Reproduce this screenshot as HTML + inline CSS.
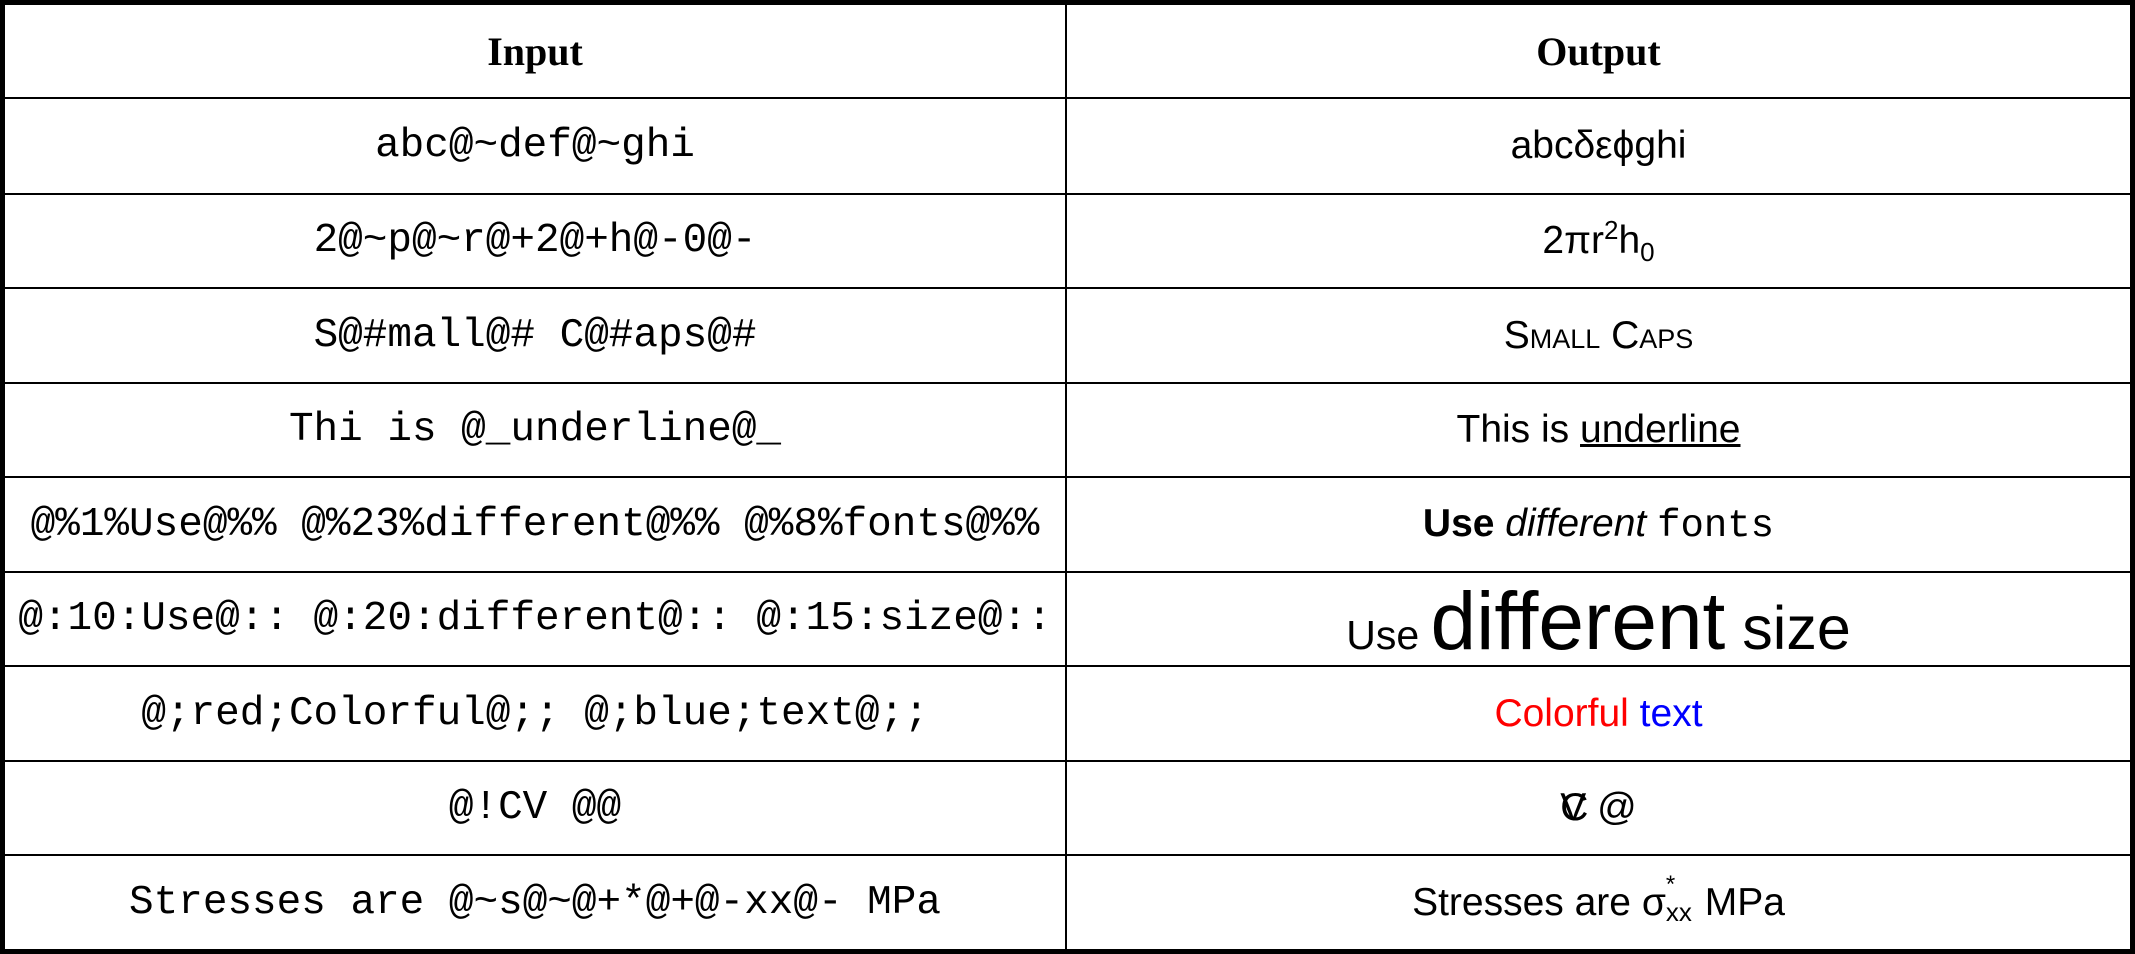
<!DOCTYPE html>
<html><head><meta charset="utf-8"><style>
html,body{margin:0;padding:0;background:#fff;width:2135px;height:954px;overflow:hidden}
.h{position:absolute;left:0;width:2135px;height:2px;background:#000}
.c{position:absolute;display:flex;align-items:center;justify-content:center;white-space:pre;color:#000}
.m{font-family:"Liberation Mono",monospace;font-size:41px}
.s{font-family:"Liberation Sans",sans-serif;font-size:39px}
.hd{font-family:"Liberation Serif",serif;font-weight:bold;font-size:40px}
</style></head><body>
<div style="position:absolute;left:0;top:0;width:2125px;height:944px;border:5px solid #000"></div>
<div style="position:absolute;left:1065px;top:0;width:2px;height:954px;background:#000"></div>
<div class="h" style="top:97px"></div>
<div class="h" style="top:193px"></div>
<div class="h" style="top:287px"></div>
<div class="h" style="top:382px"></div>
<div class="h" style="top:476px"></div>
<div class="h" style="top:571px"></div>
<div class="h" style="top:665px"></div>
<div class="h" style="top:760px"></div>
<div class="h" style="top:854px"></div>

<div class="c hd" style="left:5px;width:1060px;top:5px;height:92px">Input</div>
<div class="c hd" style="left:1067px;width:1063px;top:5px;height:92px">Output</div>

<div class="c m" style="left:5px;width:1060px;top:99px;height:94px">abc@~def@~ghi</div>
<div class="c m" style="left:5px;width:1060px;top:195px;height:92px">2@~p@~r@+2@+h@-0@-</div>
<div class="c m" style="left:5px;width:1060px;top:289px;height:93px">S@#mall@# C@#aps@#</div>
<div class="c m" style="left:5px;width:1060px;top:384px;height:92px">Thi is @_underline@_</div>
<div class="c m" style="left:5px;width:1060px;top:478px;height:93px">@%1%Use@%% @%23%different@%% @%8%fonts@%%</div>
<div class="c m" style="left:5px;width:1060px;top:573px;height:92px">@:10:Use@:: @:20:different@:: @:15:size@::</div>
<div class="c m" style="left:5px;width:1060px;top:667px;height:93px">@;red;Colorful@;; @;blue;text@;;</div>
<div class="c m" style="left:5px;width:1060px;top:762px;height:92px">@!CV @@</div>
<div class="c m" style="left:5px;width:1060px;top:856px;height:93px">Stresses are @~s@~@+*@+@-xx@- MPa</div>

<div class="c s" style="left:1067px;width:1063px;top:99px;height:94px">abcδεϕghi</div>
<div class="c s" style="left:1067px;width:1063px;top:195px;height:92px"><span>2πr<sup style="font-size:26px;vertical-align:14px">2</sup>h<sub style="font-size:26px;vertical-align:-8px">0</sub></span></div>
<div class="c s" style="left:1067px;width:1063px;top:289px;height:93px;font-variant:small-caps">Small Caps</div>
<div class="c s" style="left:1067px;width:1063px;top:384px;height:92px"><span>This is <u>underline</u></span></div>
<div class="c s" style="left:1067px;width:1063px;top:478px;height:93px"><span><b>Use</b> <i>different</i> <span style="font-family:'Liberation Mono',monospace">fonts</span></span></div>
<div style="position:absolute;left:1067px;width:1063px;top:580px;text-align:center;font-family:'Liberation Sans',sans-serif;line-height:83px;white-space:pre"><span style="font-size:41px">Use </span><span style="font-size:82px">different</span><span style="font-size:61px"> size</span></div>
<div class="c s" style="left:1067px;width:1063px;top:667px;height:93px"><span><span style="color:#f00">Colorful</span> <span style="color:#00f">text</span></span></div>
<div class="c s" style="left:1067px;width:1063px;top:762px;height:92px"><span><span style="position:relative;display:inline-block;width:26px">C<span style="position:absolute;left:0;top:0">V</span></span> @</span></div>
<div class="c s" style="left:1067px;width:1063px;top:856px;height:93px"><span>Stresses are σ<span style="display:inline-block;position:relative;width:28px;height:10px"><span style="position:absolute;left:0;top:-34px;font-size:24px">*</span><span style="position:absolute;left:0;top:-8px;font-size:26px">xx</span></span> MPa</span></div>
</body></html>
